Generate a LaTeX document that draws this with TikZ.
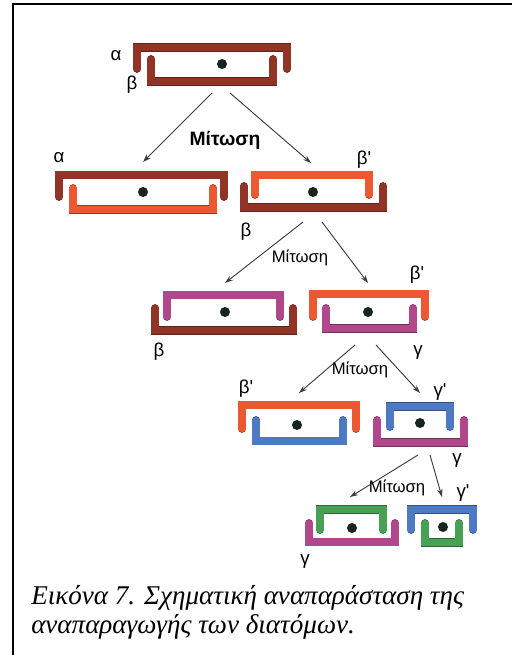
\documentclass[tikz,border=0pt]{standalone}
\usepackage{fontspec}
\setmainfont{Liberation Serif}
\newfontfamily\labelfont{Liberation Sans}
\usetikzlibrary{arrows.meta}

\definecolor{brownvalve}{RGB}{145,52,38}
\definecolor{orangevalve}{RGB}{236,88,50}
\definecolor{purplevalve}{RGB}{178,72,140}
\definecolor{bluevalve}{RGB}{78,122,196}
\definecolor{greenvalve}{RGB}{72,160,85}
\definecolor{nucleusgreen}{RGB}{22,38,28}
\definecolor{arrowgray}{RGB}{60,60,60}

\tikzset{
  valve/.style={draw=#1, line width=5.4pt, line cap=round, line join=miter},
  valve rim/.style={draw=#1!65!black, line width=6.6pt, line cap=round, line join=miter},
  nucleus/.style={circle, fill=nucleusgreen, inner sep=0pt, minimum size=7.5pt},
  split/.style={-{Stealth[length=6pt,width=4pt]}, draw=arrowgray, line width=0.7pt},
  tag/.style={font=\labelfont\fontsize{14}{16}\selectfont, inner sep=0pt},
  mitosis/.style={font=\labelfont\fontsize{12.5}{14}\selectfont, inner sep=0pt},
}

% one valve: colour, left leg x, right leg x, bar y, leg end y
\newcommand{\valve}[5]{%
  \draw[valve rim=#1] (#2,#5) -- (#2,#4) -- (#3,#4) -- (#3,#5);
  \draw[valve=#1] (#2,#5) -- (#2,#4) -- (#3,#4) -- (#3,#5);}

\begin{document}
\begin{tikzpicture}[x=0.75pt, y=-0.75pt]
  \useasboundingbox (0,0) rectangle (512,655);
  \fill[white] (0,0) rectangle (512,655);
  % frame
  \draw[line width=1.5pt] (12.5,655) -- (12.5,4.5) -- (512,4.5);

  % mother cell
  \valve{brownvalve}{137}{287}{47.5}{68.5}
  \valve{brownvalve}{151}{273}{81.5}{59.5}
  \node[nucleus] (n-a) at (222,64) {};
  \node[tag] (tag-a) at (116,56) {α};
  \node[tag] (tag-b) at (132,85) {β};

  % first division
  \valve{brownvalve}{59}{224}{175}{196.5}
  \valve{orangevalve}{73}{213}{209.5}{188.5}
  \node[nucleus] (n-al) at (143,192) {};
  \node[tag] (tag-al) at (59,158) {α};

  \valve{orangevalve}{255}{369}{175}{194.5}
  \valve{brownvalve}{244}{383}{207.5}{186.5}
  \node[nucleus] (n-ar) at (313,192) {};
  \node[tag] (tag-ar1) at (364,160) {β'};
  \node[tag] (tag-ar2) at (246,232) {β};

  \coordinate (a-out-l) at (212,93);
  \coordinate (a-out-r) at (230,93);
  \coordinate (al-in) at (143,162);
  \coordinate (ar-in) at (311,163);
  \draw[split] (a-out-l) -- (al-in);
  \draw[split] (a-out-r) -- (ar-in);
  \node[mitosis, font=\labelfont\bfseries\fontsize{14.5}{16}\selectfont] (mit-a) at (225,140) {Μίτωση};

  % second division
  \valve{purplevalve}{167}{280}{295}{316.5}
  \valve{brownvalve}{155}{293}{330.5}{308.5}
  \node[nucleus] (n-bl) at (225,312) {};
  \node[tag] (tag-bl) at (159,352) {β};

  \valve{orangevalve}{313}{425}{294}{316.5}
  \valve{purplevalve}{326}{413}{328.5}{308.5}
  \node[nucleus] (n-br) at (368,312) {};
  \node[tag] (tag-br1) at (417,275) {β'};
  \node[tag] (tag-br2) at (418,352) {γ};

  \coordinate (ar-out-l) at (303,222);
  \coordinate (ar-out-r) at (322,222);
  \coordinate (bl-in) at (225,283);
  \coordinate (br-in) at (368,283);
  \draw[split] (ar-out-l) -- (bl-in);
  \draw[split] (ar-out-r) -- (br-in);
  \node[mitosis] (mit-b) at (300,258) {Μίτωση};

  % third division
  \valve{orangevalve}{242}{356}{405}{428.5}
  \valve{bluevalve}{256}{343}{441}{420.5}
  \node[nucleus] (n-cl) at (297,425) {};
  \node[tag] (tag-cl) at (246,389) {β'};

  \valve{bluevalve}{390}{450}{406.5}{426.5}
  \valve{purplevalve}{377}{464}{442.5}{420.5}
  \node[nucleus] (n-cr) at (420,423) {};
  \node[tag] (tag-cr1) at (440,392) {γ'};
  \node[tag] (tag-cr2) at (457,460) {γ};

  \coordinate (br-out-l) at (355,345);
  \coordinate (br-out-r) at (376,345);
  \coordinate (cl-in) at (299,393);
  \coordinate (cr-in) at (420,393);
  \draw[split] (br-out-l) -- (cl-in);
  \draw[split] (br-out-r) -- (cr-in);
  \node[mitosis] (mit-c) at (360,370) {Μίτωση};

  % fourth division
  \valve{greenvalve}{320}{383}{509.5}{529.5}
  \valve{purplevalve}{309}{395}{542}{523.5}
  \node[nucleus] (n-dl) at (352,528) {};
  \node[tag] (tag-dl) at (305,561) {γ};

  \valve{bluevalve}{411}{473}{509.5}{529.5}
  \valve{greenvalve}{425}{459}{542.5}{523.5}
  \node[nucleus] (n-dr) at (443,527) {};
  \node[tag] (tag-dr) at (463,493) {γ'};

  \coordinate (cr-out-l) at (418,455);
  \coordinate (cr-out-r) at (430,455);
  \coordinate (dl-in) at (350,497);
  \coordinate (dr-in) at (442,497);
  \draw[split] (cr-out-l) -- (dl-in);
  \draw[split] (cr-out-r) -- (dr-in);
  \node[mitosis] (mit-d) at (397,488) {Μίτωση};

  % caption, anchored at the baseline of its last line
  \node[anchor=base west, align=left, inner sep=0pt,
        font=\itshape\fontsize{20.3}{21.75}\selectfont] (caption) at (31,633)
    {Εικόνα 7. Σχηματική αναπαράσταση της\\αναπαραγωγής των διατόμων.};
\end{tikzpicture}
\end{document}
